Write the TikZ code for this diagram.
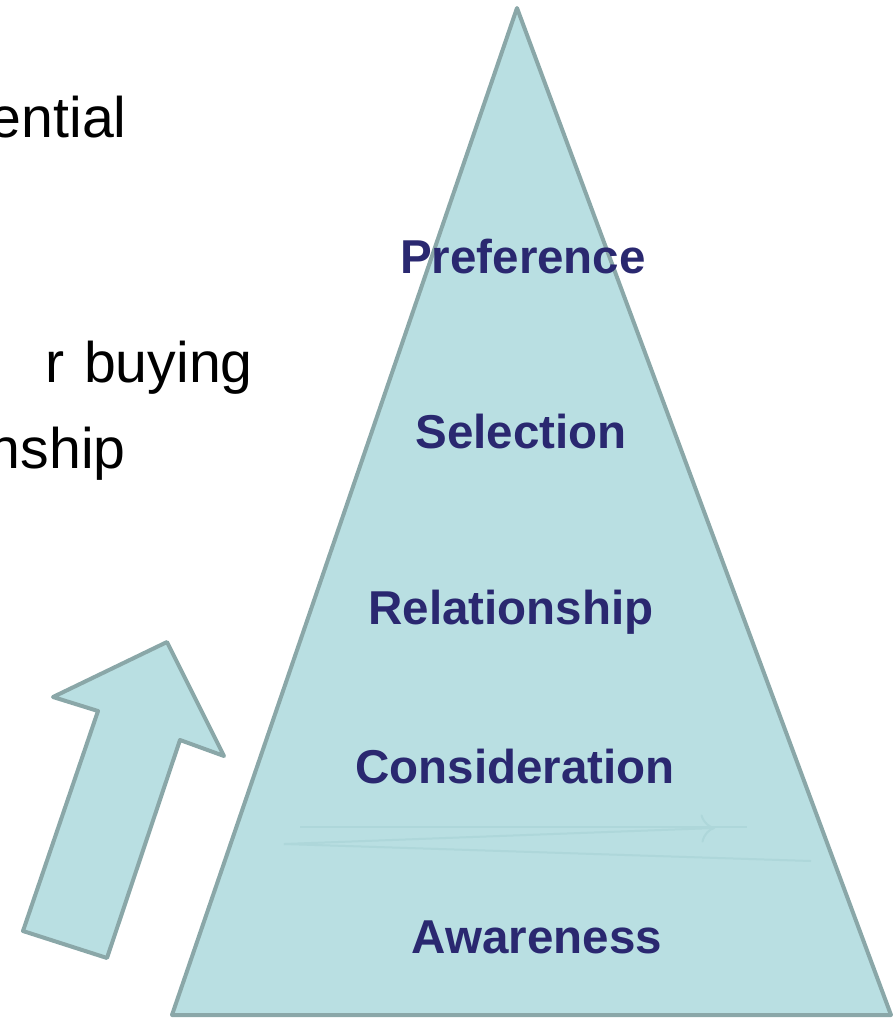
\documentclass[tikz,border=0pt]{standalone}
\usepackage{fontspec}
\setmainfont{Liberation Sans}
\usetikzlibrary{arrows.meta}

\definecolor{pyrfill}{HTML}{B9DFE2}
\definecolor{pyrline}{HTML}{8AA7A8}
\definecolor{stagetext}{HTML}{2A2870}
\definecolor{faintline}{HTML}{AED7DA}

\tikzset{
  pyr/.style={draw=pyrline, fill=pyrfill, line width=1mm, line join=round},
  stage/.style={inner sep=0pt, anchor=base, text=stagetext, font=\fontsize{33.8}{38}\selectfont\bfseries},
  body/.style={inner sep=0pt, anchor=base east, text=black, font=\fontsize{40.7}{46}\selectfont},
  faint/.style={draw=faintline, line width=0.5mm}
}

\begin{document}
\begin{tikzpicture}[x=0.25mm, y=-0.25mm]
\useasboundingbox (0,0) rectangle (895,1018);
\clip (0,0) rectangle (895,1018);

% text cut off at the left
\node[body] (t1) at (127,138) {ential};
\node[body] (t2) at (253,382) {r\hspace{1mm} buying};
\node[body] (t3) at (126,468) {nship};

% rising arrow
\draw[pyr] (167,642) -- (224,756) -- (180,740) -- (107,958) -- (23,931) -- (98,711) -- (53,697) -- cycle;

% the pyramid
\draw[pyr] (517,8) -- (891,1015) -- (172,1015) -- cycle;

% faint traces
\coordinate (f1) at (300,827);
\coordinate (f2) at (747,827);
\coordinate (f3) at (284,844);
\coordinate (f4) at (715,828);
\coordinate (f5) at (811,861);
\draw[faint] (f1) -- (f2);
\draw[faint, -{To[length=3.5mm, width=7mm]}] (f3) -- (f4);
\draw[faint] (f3) -- (f5);

% stages
\node[stage] (pref) at (523,273) {Preference};
\node[stage] (sel) at (521,448) {Selection};
\node[stage] (rel) at (511,624) {Relationship};
\node[stage] (cons) at (515,783) {Consideration};
\node[stage] (aware) at (537,953) {Awareness};
\end{tikzpicture}
\end{document}
